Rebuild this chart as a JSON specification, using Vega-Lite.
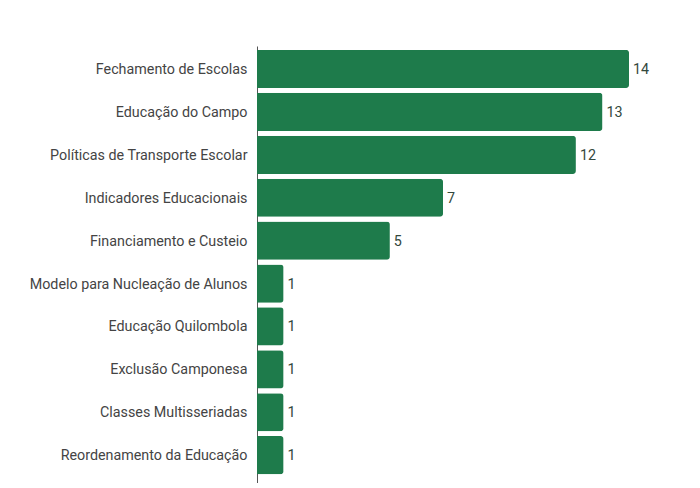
{
  "$schema": "https://vega.github.io/schema/vega-lite/v6.json",
  "autosize": "none",
  "padding": {"left": 257, "top": 46, "right": 0, "bottom": 0},
  "width": 443,
  "height": 437,
  "background": "#ffffff",
  "config": {
    "view": {"stroke": null},
    "font": "Roboto"
  },
  "data": {
    "values": [
      {"tema": "Fechamento de Escolas", "n": 14},
      {"tema": "Educação do Campo", "n": 13},
      {"tema": "Políticas de Transporte Escolar", "n": 12},
      {"tema": "Indicadores Educacionais", "n": 7},
      {"tema": "Financiamento e Custeio", "n": 5},
      {"tema": "Modelo para Nucleação de Alunos", "n": 1},
      {"tema": "Educação Quilombola", "n": 1},
      {"tema": "Exclusão Camponesa", "n": 1},
      {"tema": "Classes Multisseriadas", "n": 1},
      {"tema": "Reordenamento da Educação", "n": 1}
    ]
  },
  "encoding": {
    "y": {
      "field": "tema",
      "type": "nominal",
      "sort": null,
      "title": null,
      "scale": {"paddingInner": 0.11, "paddingOuter": 0.148, "align": 0.31},
      "axis": {
        "ticks": false,
        "labelPadding": 10,
        "labelFontSize": 14.3,
        "labelColor": "#444444",
        "labelFont": "Roboto",
        "labelLimit": 300,
        "labelOffset": 1,
        "domainColor": "#555555",
        "domainWidth": 1
      }
    },
    "x": {
      "field": "n",
      "type": "quantitative",
      "scale": {"domain": [0, 16.67], "nice": false},
      "axis": null
    }
  },
  "layer": [
    {
      "mark": {"type": "bar", "color": "#1e7b4b", "cornerRadiusEnd": 3}
    },
    {
      "mark": {
        "type": "text",
        "align": "left",
        "baseline": "middle",
        "dx": 4,
        "dy": 1,
        "fontSize": 14.3,
        "font": "Roboto",
        "color": "#33483d"
      },
      "encoding": {"text": {"field": "n"}}
    }
  ]
}
